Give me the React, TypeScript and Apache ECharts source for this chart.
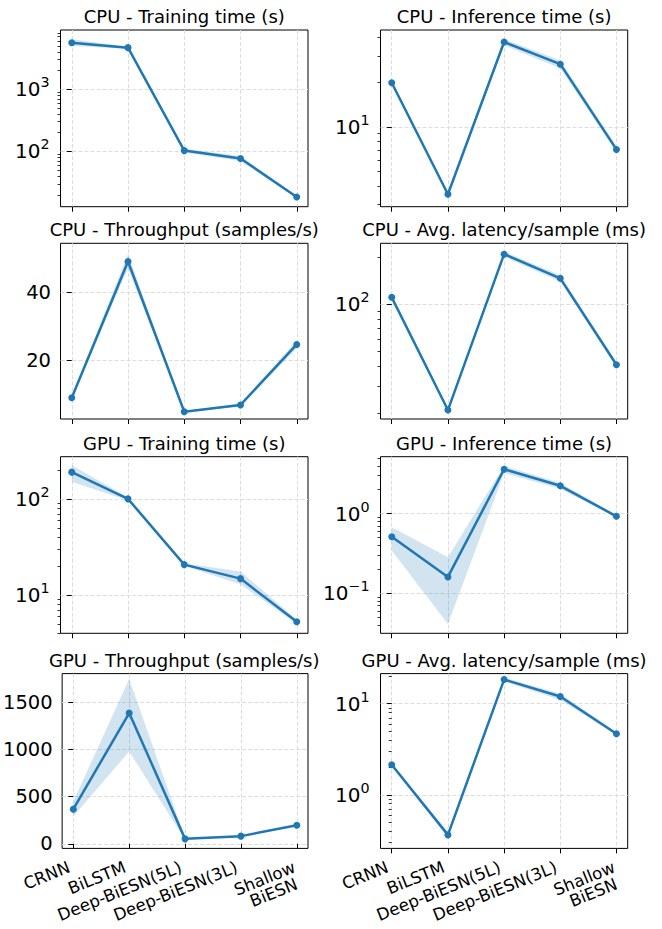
import React, { useEffect, useRef } from 'react';
import * as echarts from 'echarts';

const categories = ['CRNN', 'BiLSTM', 'Deep-BiESN(5L)', 'Deep-BiESN(3L)', 'Shallow\nBiESN'];

const titles = [
  'CPU - Training time (s)',
  'CPU - Inference time (s)',
  'CPU - Throughput (samples/s)',
  'CPU - Avg. latency/sample (ms)',
  'GPU - Training time (s)',
  'GPU - Inference time (s)',
  'GPU - Throughput (samples/s)',
  'GPU - Avg. latency/sample (ms)',
];

// CPU
const cpuTrainMean = [5600, 4660, 103, 77, 18.5];
const cpuTrainLow = [4950, 4480, 96, 70, 17.6];
const cpuTrainHigh = [6350, 4850, 110, 84, 19.4];

const cpuInferMean = [19.8, 3.53, 37.2, 26.4, 7.06];
const cpuInferLow = [19.2, 3.45, 35.3, 24.8, 6.75];
const cpuInferHigh = [20.4, 3.62, 39.0, 27.9, 7.4];

const cpuThroughMean = [8.95, 49.2, 4.8, 6.8, 24.7];
const cpuThroughLow = [8.6, 47.2, 4.6, 6.4, 23.6];
const cpuThroughHigh = [9.3, 51.4, 5.0, 7.2, 25.8];

const cpuLatMean = [111, 21.0, 210, 147, 41];
const cpuLatLow = [108, 20.5, 202, 140, 39.5];
const cpuLatHigh = [114, 21.5, 218, 154, 42.5];

// GPU
const gpuTrainMean = [190, 100, 20.7, 14.8, 5.27];
const gpuTrainLow = [151, 96, 20.0, 12.9, 5.0];
const gpuTrainHigh = [224, 104, 21.4, 17.5, 5.55];

const gpuInferMean = [0.511, 0.16, 3.62, 2.24, 0.926];
const gpuInferLow = [0.345, 0.041, 3.23, 2.05, 0.89];
const gpuInferHigh = [0.674, 0.284, 4.0, 2.42, 0.96];

const gpuThroughMean = [368, 1387, 53, 82, 198];
const gpuThroughLow = [290, 980, 45, 75, 188];
const gpuThroughHigh = [449, 1748, 61, 89, 208];

const gpuLatMean = [2.14, 0.363, 18.4, 12.0, 4.68];
const gpuLatLow = [2.07, 0.34, 17.5, 11.0, 4.5];
const gpuLatHigh = [2.21, 0.39, 19.3, 12.9, 4.86];

// axis limits and scale types
const yLogScale = [true, true, false, true, true, true, false, true];
const yMin = [12.9, 2.91, 2.65, 18.4, 3.99, 0.0313, -48, 0.258];
const yMax = [8960, 44.8, 54.6, 246.6, 275, 5.2, 1805, 21.4];
const cpuThroughTicks = [20, 40];
const gpuThroughTicks = [0, 500, 1000, 1500];
const xTickValues = [0, 1, 2, 3, 4];

const means = [cpuTrainMean, cpuInferMean, cpuThroughMean, cpuLatMean, gpuTrainMean, gpuInferMean, gpuThroughMean, gpuLatMean];
const lows = [cpuTrainLow, cpuInferLow, cpuThroughLow, cpuLatLow, gpuTrainLow, gpuInferLow, gpuThroughLow, gpuLatLow];
const highs = [cpuTrainHigh, cpuInferHigh, cpuThroughHigh, cpuLatHigh, gpuTrainHigh, gpuInferHigh, gpuThroughHigh, gpuLatHigh];
const linearTicks: Record<number, number[]> = { 2: cpuThroughTicks, 6: gpuThroughTicks };

const FONT = 'DejaVu Sans';
const BLUE = '#1f77b4';
const BAND = 'rgba(31,119,180,0.2)';
const colLeft = [60.5, 380.5];
const colWidth = [247.5, 247.2];
const rowTop = [30, 243.3, 456.7, 673.6];
const rowHeight = [176.7, 175.7, 176.6, 174.8];
const LABEL_ROT = 22;
const LABEL_MARGIN = 16.5;
const LABEL_PAD = 4.5;
const WRAP_DX0 = 2; // horizontal offset of the first line of a wrapped label
const LINE_DX = 3; // extra horizontal step for each following line
const LINE_DY = 16.5; // vertical step of a wrapped label line

function logTicks(min: number, max: number) {
  const majors: number[] = [];
  const minors: number[] = [];
  for (let e = Math.floor(Math.log10(min)); e <= Math.ceil(Math.log10(max)); e++) {
    for (let k = 1; k <= 9; k++) {
      const v = k * Math.pow(10, e);
      if (v >= min && v <= max) (k === 1 ? majors : minors).push(v);
    }
  }
  return { majors, minors };
}

function supLabel(v: number) {
  const n = Math.round(Math.log10(v));
  const s = n < 0 ? '\u2212' + String(-n) : String(n);
  return '{b|10}{e|' + s + '}';
}

export default function App() {
  const ref = useRef<HTMLDivElement>(null);
  useEffect(() => {
    const chart = echarts.init(ref.current!, null, { renderer: 'svg' });
    const grids: any[] = [];
    const xAxes: any[] = [];
    const yAxes: any[] = [];
    const series: any[] = [];
    const graphics: any[] = [];
    const gridLine = { show: true, lineStyle: { color: '#dddddd', width: 1, type: [4, 2] } };
    const rad = (LABEL_ROT * Math.PI) / 180;

    titles.forEach((title, k) => {
      const col = k % 2;
      const row = Math.floor(k / 2);
      const left = colLeft[col];
      const width = colWidth[col];
      const top = rowTop[row];
      const height = rowHeight[row];
      grids.push({ left, top, width, height, show: true, borderColor: '#000', borderWidth: 1, backgroundColor: 'rgba(0,0,0,0)' });
      graphics.push({
        type: 'text',
        x: left + width / 2,
        y: top - 13.5,
        style: { text: title, fontSize: 18, fontFamily: FONT, fill: '#000', textAlign: 'center', textVerticalAlign: 'middle' },
      });
      const mainX = xAxes.length;
      xAxes.push({
        gridIndex: k,
        type: 'value',
        min: -0.2,
        max: 4.2,
        axisLine: { show: false },
        axisTick: { show: true, length: 5, lineStyle: { color: '#000', width: 1 }, customValues: xTickValues },
        splitLine: gridLine,
        axisLabel: { show: false, customValues: xTickValues },
      });
      if (row === 3) {
        // one label axis per category line, so no label is hidden by overlap checks
        categories.forEach((cat, i) => {
          const lines = cat.split('\n');
          const n = lines.length;
          lines.forEach((line, j) => {
            const dx = n > 1 ? WRAP_DX0 + j * LINE_DX : 0;
            const dp = -dx / Math.cos(rad);
            const dm = j * LINE_DY - dp * Math.sin(rad);
            xAxes.push({
              gridIndex: k,
              type: 'value',
              position: 'bottom',
              min: -0.2,
              max: 4.2,
              axisLine: { show: false },
              axisTick: { show: false },
              splitLine: { show: false },
              axisLabel: {
                show: true,
                customValues: [xTickValues[i]],
                rotate: LABEL_ROT,
                fontSize: 16.7,
                fontFamily: FONT,
                color: '#000',
                margin: LABEL_MARGIN + dm,
                lineHeight: 17,
                padding: [0, Math.max(0, LABEL_PAD + dp), 0, 0],
                formatter: () => line,
              },
            });
          });
        });
      }
      const isLog = yLogScale[k];
      const mainIndex = yAxes.length;
      if (isLog) {
        const { majors, minors } = logTicks(yMin[k], yMax[k]);
        yAxes.push({
          gridIndex: k,
          type: 'log',
          logBase: 10,
          position: 'left',
          min: yMin[k],
          max: yMax[k],
          axisLine: { show: false },
          axisTick: { show: true, length: 5, lineStyle: { color: '#000', width: 1 }, customValues: majors },
          splitLine: gridLine,
          axisLabel: {
            customValues: majors,
            margin: 11,
            color: '#000',
            formatter: supLabel,
            rich: {
              b: { fontSize: 20, fontFamily: FONT, color: '#000', lineHeight: 28 },
              e: { fontSize: 14.3, fontFamily: FONT, color: '#000', verticalAlign: 'top', lineHeight: 16 },
            },
          },
        });
        yAxes.push({
          gridIndex: k,
          type: 'log',
          logBase: 10,
          position: 'left',
          min: yMin[k],
          max: yMax[k],
          axisLine: { show: false },
          axisTick: { show: true, length: 3, lineStyle: { color: '#000', width: 0.8 }, customValues: minors },
          splitLine: { show: false },
          axisLabel: { show: false },
        });
      } else {
        const ticks = linearTicks[k];
        yAxes.push({
          gridIndex: k,
          type: 'value',
          position: 'left',
          min: yMin[k],
          max: yMax[k],
          axisLine: { show: false },
          axisTick: { show: true, length: 5, lineStyle: { color: '#000', width: 1 }, customValues: ticks },
          splitLine: gridLine,
          axisLabel: {
            customValues: ticks,
            margin: 9.5,
            color: '#000',
            fontSize: 19.5,
            fontFamily: FONT,
            formatter: (v: number) => String(v),
          },
        });
      }
      const low = lows[k];
      const high = highs[k];
      const mean = means[k];
      series.push({
        type: 'custom',
        coordinateSystem: 'cartesian2d',
        xAxisIndex: mainX,
        yAxisIndex: mainIndex,
        data: low.map((v, i) => [i, v, high[i]]),
        encode: { x: 0, y: [1, 2] },
        silent: true,
        z: 1,
        renderItem: (params: any, api: any) => {
          if (params.dataIndex !== 0) return null;
          const pts: number[][] = [];
          for (let i = 0; i < low.length; i++) pts.push(api.coord([api.value(0, i), api.value(1, i)]));
          for (let i = low.length - 1; i >= 0; i--) pts.push(api.coord([api.value(0, i), api.value(2, i)]));
          return { type: 'polygon', shape: { points: pts }, style: { fill: BAND, stroke: 'none' } };
        },
      });
      series.push({
        type: 'line',
        xAxisIndex: mainX,
        yAxisIndex: mainIndex,
        data: mean.map((v, i) => [i, v]),
        symbol: 'circle',
        symbolSize: 7,
        lineStyle: { color: BLUE, width: 2.5 },
        itemStyle: { color: BLUE },
        z: 3,
      });
    });

    chart.setOption({
      animation: false,
      backgroundColor: '#ffffff',
      textStyle: { fontFamily: FONT },
      grid: grids,
      xAxis: xAxes,
      yAxis: yAxes,
      series,
      graphic: graphics,
    });
    return () => chart.dispose();
  }, []);
  return <div ref={ref} style={{ position: 'fixed', left: 0, top: 0, width: 662, height: 929 }} />;
}
